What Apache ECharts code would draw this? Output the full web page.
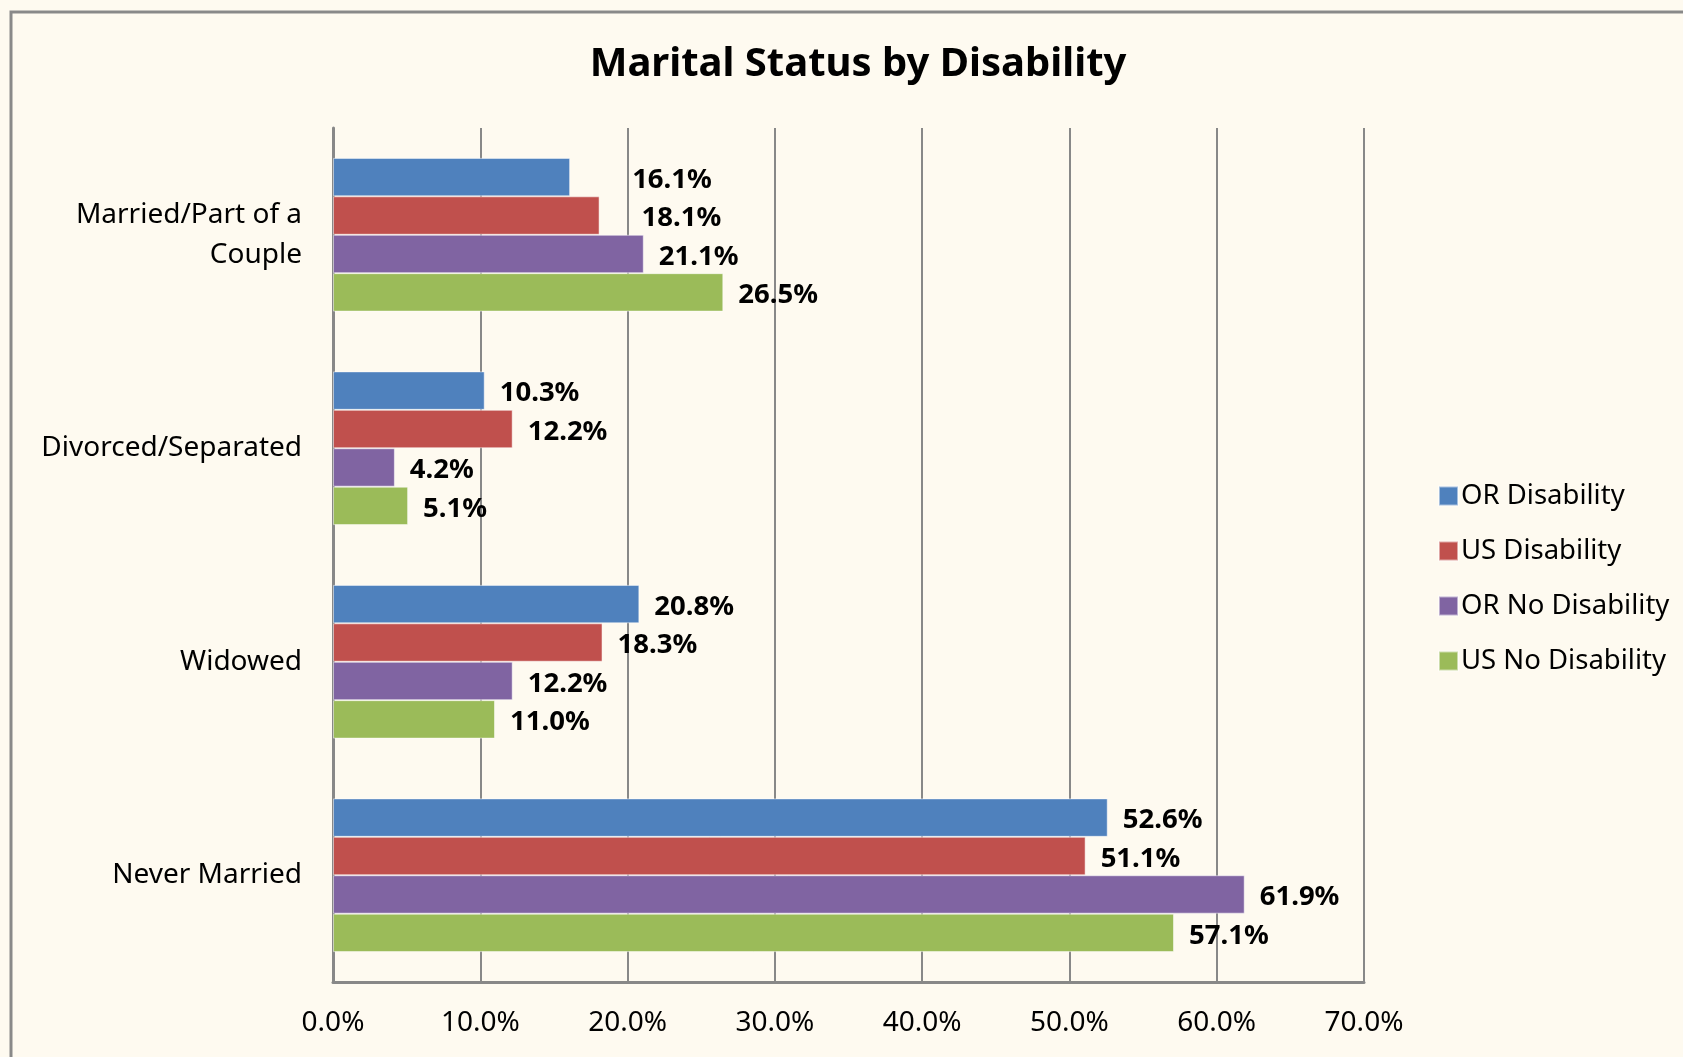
<!DOCTYPE html>
<html>
<head>
<meta charset="utf-8">
<script src="https://cdn.jsdelivr.net/npm/echarts@6/dist/echarts.min.js"></script>
<style>
  html, body { margin: 0; padding: 0; background: #fefaf0; }
  #chart { width: 1683px; height: 1057px; }
</style>
</head>
<body>
<div id="chart"></div>
<script>
var categories = ["Married/Part of a\nCouple", "Divorced/Separated", "Widowed", "Never Married"];
var seriesNames = ["OR Disability", "US Disability", "OR No Disability", "US No Disability"];
var orDisability = [16.1, 10.3, 20.8, 52.6];
var usDisability = [18.1, 12.2, 18.3, 51.1];
var orNoDisability = [21.1, 4.2, 12.2, 61.9];
var usNoDisability = [26.5, 5.1, 11.0, 57.1];
var colors = ["#4f81bd", "#c0504d", "#8064a2", "#9bbb59"];

var font = '"Noto Sans", "Open Sans", sans-serif';
// labels that sit further out than the rest in the original
var labelDist = { "0-0": 62, "1-0": 42 };

var allValues = [orDisability, usDisability, orNoDisability, usNoDisability];
var series = [];
allValues.forEach(function (vals, s) {
  series.push({
    name: seriesNames[s],
    type: "bar",
    barGap: "0%",
    barCategoryGap: "28%",
    itemStyle: { color: colors[s], borderColor: "rgba(255,255,255,0.5)", borderWidth: 1 },
    label: {
      show: true,
      position: "right",
      distance: 15,
      offset: [0, 3],
      fontFamily: font,
      fontSize: 27.5,
      fontWeight: "bold",
      color: "#000",
      formatter: function (p) { return p.value.toFixed(1) + "%"; }
    },
    data: vals.map(function (v, i) {
      var d = labelDist[s + "-" + i];
      return d ? { value: v, label: { distance: d } } : v;
    })
  });
});

var chart = echarts.init(document.getElementById("chart"));
chart.setOption({
  backgroundColor: "#fefaf0",
  animation: false,
  title: {
    text: "Marital Status by Disability",
    left: 853,
    textAlign: "center",
    top: 40,
    textStyle: { fontFamily: font, fontSize: 40, fontWeight: "bold", color: "#000" }
  },
  graphic: [{
    type: "rect",
    shape: { x: 11, y: 12, width: 1700, height: 1070 },
    style: { fill: null, stroke: "#898989", lineWidth: 3 },
    silent: true
  }],
  legend: {
    orient: "vertical",
    left: 1433,
    top: 477,
    itemWidth: 19,
    itemHeight: 19,
    itemGap: 27,
    icon: "rect",
    textStyle: { fontFamily: font, fontSize: 27.5, color: "#000", padding: [0, 0, 0, -2] },
    data: seriesNames
  },
  grid: { left: 333, right: 319, top: 128, bottom: 75, outerBoundsMode: "none", containLabel: false },
  xAxis: {
    type: "value",
    min: 0,
    max: 70,
    interval: 10,
    axisLine: { show: true, lineStyle: { color: "#888", width: 3 } },
    axisTick: { show: false },
    splitLine: { show: true, lineStyle: { color: "#888", width: 2 } },
    axisLabel: {
      margin: 27,
      fontFamily: font,
      fontSize: 28,
      color: "#000",
      formatter: function (v) { return v.toFixed(1) + "%"; }
    }
  },
  yAxis: {
    type: "category",
    inverse: true,
    data: categories,
    axisLine: { show: true, lineStyle: { color: "#888", width: 3 } },
    axisTick: { show: false },
    axisLabel: {
      margin: 31,
      fontFamily: font,
      fontSize: 28,
      lineHeight: 40,
      color: "#000",
      align: "right"
    }
  },
  series: series
});
</script>
</body>
</html>
